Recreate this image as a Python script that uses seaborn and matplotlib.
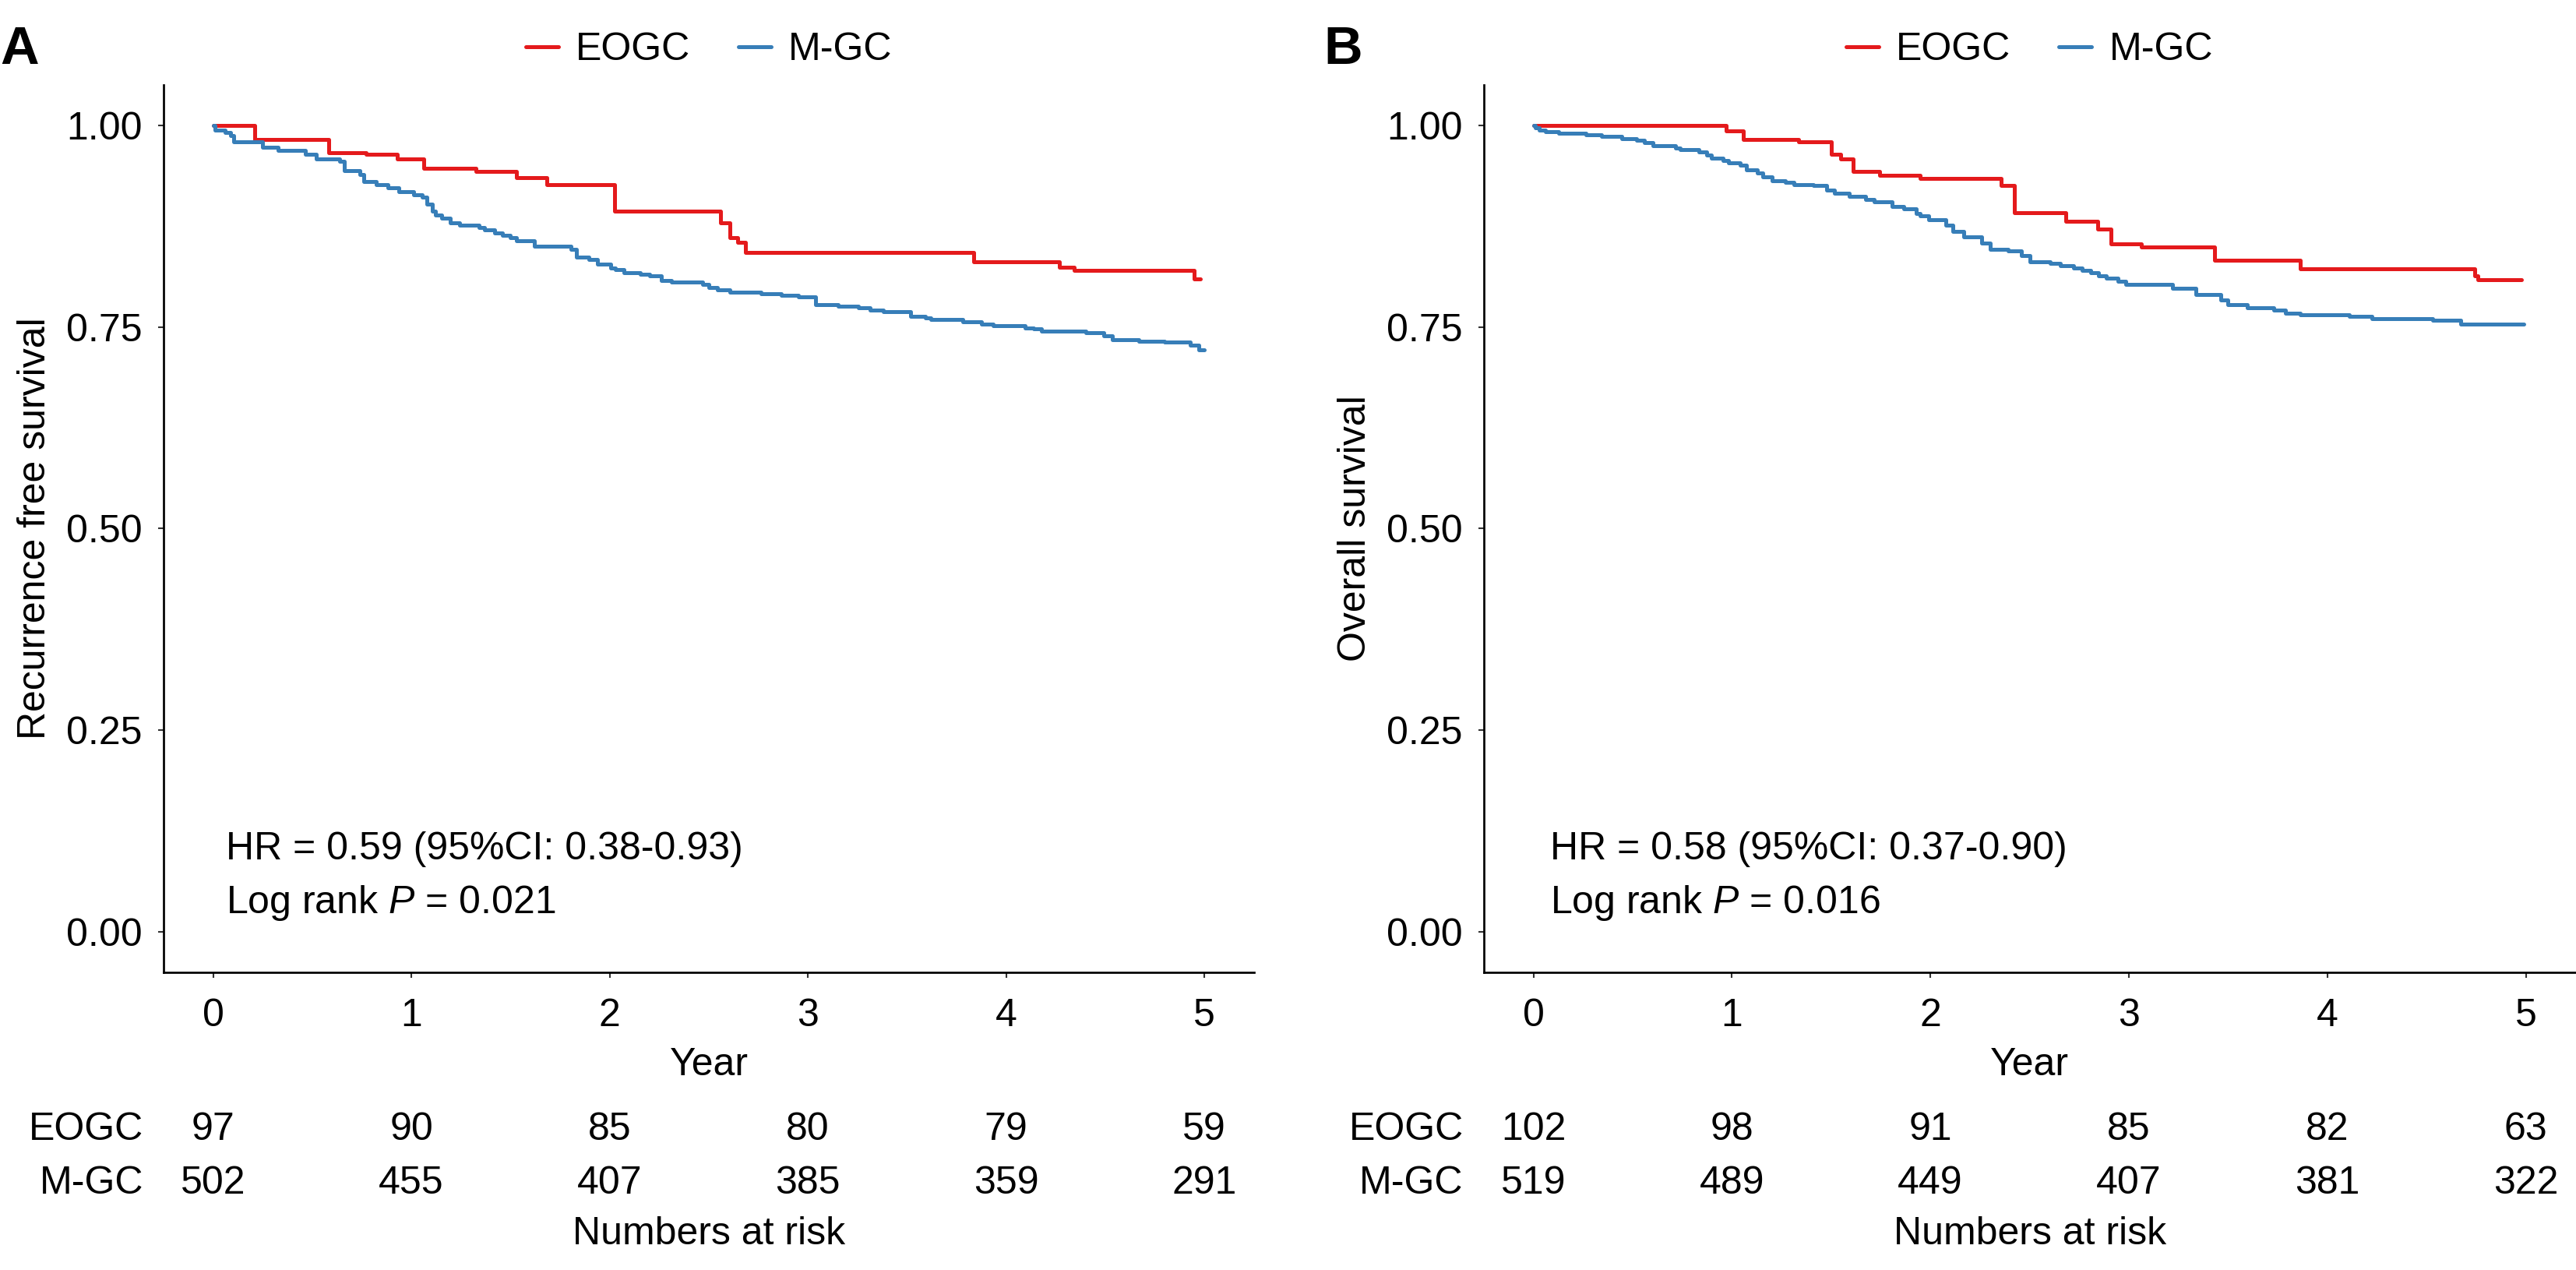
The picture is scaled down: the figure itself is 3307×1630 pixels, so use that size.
import pandas as pd
import matplotlib.pyplot as plt
import matplotlib.transforms as mtransforms
import seaborn as sns

# Kaplan-Meier step curves (time in years, survival)
rfs_eogc_t = [0, 0.21, 0.583, 0.773, 0.930, 1.062, 1.327, 1.530, 1.682, 2.026,
              2.559, 2.608, 2.645, 2.686, 3.836, 4.270, 4.344, 4.947, 4.98]
rfs_eogc_s = [1.0, 0.982, 0.966, 0.964, 0.958, 0.947, 0.943, 0.9355, 0.9265, 0.894,
              0.879, 0.861, 0.855, 0.842, 0.831, 0.824, 0.820, 0.810, 0.810]

rfs_mgc_t = [0, 0.01, 0.06, 0.087, 0.103, 0.249, 0.327, 0.467, 0.522, 0.638,
             0.661, 0.740, 0.759, 0.822, 0.881, 0.935, 1.013, 1.054, 1.079, 1.104,
             1.120, 1.153, 1.195, 1.244, 1.343, 1.368, 1.418, 1.459, 1.500, 1.530,
             1.619, 1.806, 1.831, 1.897, 1.938, 2.004, 2.029, 2.071, 2.153, 2.203,
             2.261, 2.310, 2.467, 2.500, 2.542, 2.608, 2.765, 2.864, 2.952, 3.040,
             3.154, 3.256, 3.315, 3.382, 3.517, 3.592, 3.621, 3.782, 3.877, 3.935,
             4.096, 4.137, 4.178, 4.402, 4.492, 4.534, 4.671, 4.798, 4.93, 4.97, 5.0]
rfs_mgc_s = [1.0, 0.994, 0.991, 0.987, 0.980, 0.973, 0.969, 0.964, 0.958, 0.955,
             0.944, 0.939, 0.930, 0.9265, 0.923, 0.918, 0.914, 0.911, 0.902, 0.894,
             0.889, 0.885, 0.879, 0.876, 0.873, 0.870, 0.867, 0.864, 0.861, 0.857,
             0.850, 0.846, 0.837, 0.834, 0.828, 0.823, 0.821, 0.817, 0.815, 0.813,
             0.808, 0.806, 0.803, 0.799, 0.796, 0.793, 0.791, 0.789, 0.787, 0.778,
             0.776, 0.7735, 0.771, 0.769, 0.763, 0.761, 0.759, 0.756, 0.7535, 0.7516,
             0.749, 0.7475, 0.745, 0.7427, 0.739, 0.7346, 0.7324, 0.731, 0.727, 0.722, 0.722]

os_eogc_t = [0, 0.973, 1.059, 1.336, 1.501, 1.547, 1.612, 1.745, 1.947, 2.356,
             2.422, 2.681, 2.843, 2.908, 3.062, 3.433, 3.862, 4.742, 4.759, 4.977]
os_eogc_s = [1.0, 0.9926, 0.982, 0.9795, 0.964, 0.958, 0.9425, 0.938, 0.934, 0.925,
             0.892, 0.881, 0.871, 0.853, 0.849, 0.833, 0.822, 0.8135, 0.809, 0.809]

os_mgc_t = [0, 0.01, 0.03, 0.061, 0.127, 0.266, 0.345, 0.447, 0.518, 0.560,
            0.601, 0.717, 0.741, 0.832, 0.874, 0.898, 0.956, 0.981, 1.042, 1.075,
            1.129, 1.154, 1.204, 1.270, 1.311, 1.410, 1.476, 1.518, 1.592, 1.675,
            1.716, 1.806, 1.864, 1.930, 1.947, 1.992, 2.078, 2.112, 2.169, 2.260,
            2.302, 2.392, 2.459, 2.50, 2.604, 2.654, 2.720, 2.765, 2.806, 2.847,
            2.885, 2.945, 2.984, 3.218, 3.339, 3.463, 3.498, 3.598, 3.730, 3.788,
            3.865, 4.110, 4.226, 4.531, 4.671, 4.99]
os_mgc_s = [1.0, 0.9965, 0.994, 0.992, 0.990, 0.988, 0.986, 0.9836, 0.9814, 0.979,
            0.975, 0.972, 0.970, 0.9666, 0.9634, 0.9596, 0.9564, 0.953, 0.9506, 0.9448,
            0.9413, 0.936, 0.9316, 0.929, 0.9268, 0.925, 0.920, 0.9156, 0.912, 0.908,
            0.905, 0.8996, 0.896, 0.8905, 0.8874, 0.8825, 0.876, 0.868, 0.8617, 0.8543,
            0.8466, 0.844, 0.839, 0.831, 0.8286, 0.8264, 0.823, 0.820, 0.8174, 0.8135,
            0.8103, 0.807, 0.803, 0.798, 0.790, 0.7837, 0.778, 0.774, 0.771, 0.767,
            0.7648, 0.763, 0.7606, 0.7586, 0.754, 0.754]

groups = ['EOGC', 'M-GC']
years = [0, 1, 2, 3, 4, 5]
rfs_risk_eogc = [97, 90, 85, 80, 79, 59]
rfs_risk_mgc = [502, 455, 407, 385, 359, 291]
os_risk_eogc = [102, 98, 91, 85, 82, 63]
os_risk_mgc = [519, 489, 449, 407, 381, 322]

rfs_stats = ['HR = 0.59 (95%CI: 0.38-0.93)', 'Log rank $P$ = 0.021']
os_stats = ['HR = 0.58 (95%CI: 0.37-0.90)', 'Log rank $P$ = 0.016']

palette = {'EOGC': '#E41A1C', 'M-GC': '#377EB8'}


def make_frame(t1, s1, t2, s2):
    d1 = pd.DataFrame({'time': t1, 'surv': s1, 'group': groups[0]})
    d2 = pd.DataFrame({'time': t2, 'surv': s2, 'group': groups[1]})
    return pd.concat([d1, d2], ignore_index=True)


def draw_panel(fig, rect, df, ylabel, stats, stats_x, risk1, risk2, letter, letter_x):
    ax = fig.add_axes(rect)
    sns.lineplot(data=df, x='time', y='surv', hue='group', palette=palette,
                 estimator=None, sort=False, drawstyle='steps-post',
                 linewidth=1.2, ax=ax)
    handles, labels = ax.get_legend_handles_labels()
    ax.get_legend().remove()
    ax.legend(handles, labels, loc='center', bbox_to_anchor=(0.5, 1.0395), ncol=2,
              frameon=False, fontsize=12, handlelength=0.84, handletextpad=0.44,
              columnspacing=1.24, borderaxespad=0)

    ax.set_xlim(-0.25, 5.25)
    ax.set_ylim(-0.05, 1.05)
    ax.set_xticks(years)
    ax.set_yticks([0, 0.25, 0.5, 0.75, 1.0])
    ax.set_yticklabels(['0.00', '0.25', '0.50', '0.75', '1.00'])
    ax.tick_params(axis='both', labelsize=12, length=1.7, width=0.5, color='#333333',
                   labelcolor='black')
    ax.tick_params(axis='x', pad=6.2)
    ax.tick_params(axis='y', pad=4.8)
    sns.despine(ax=ax)
    for side in ['left', 'bottom']:
        ax.spines[side].set_linewidth(0.65)
        ax.spines[side].set_color('black')

    ax.set_xlabel('Year', fontsize=12)
    ax.xaxis.label.set_va('baseline')
    ax.xaxis.set_label_coords(0.5, -0.1159)
    ax.set_ylabel(ylabel, fontsize=12)
    ax.yaxis.label.set_va('center')
    ax.yaxis.set_label_coords(-0.1179, 0.5)

    ax.text(stats_x, 0.0902, stats[0], fontsize=12, va='baseline')
    ax.text(stats_x, 0.0238, stats[1], fontsize=12, va='baseline')

    # numbers at risk table under the axis
    tr = mtransforms.blended_transform_factory(ax.transData, fig.transFigure)
    tr_lab = mtransforms.blended_transform_factory(ax.transAxes, fig.transFigure)
    for row_y, name, vals in [(0.1025, groups[0], risk1), (0.0601, groups[1], risk2)]:
        ax.text(-0.0186, row_y, name, transform=tr_lab, ha='right', va='baseline',
                fontsize=12)
        for yr, v in zip(years, vals):
            ax.text(yr, row_y, str(v), transform=tr, ha='center', va='baseline',
                    fontsize=12)
    ax.text(0.5, 0.0202, 'Numbers at risk', transform=tr_lab, ha='center',
            va='baseline', fontsize=12)

    fig.text(letter_x, 1 - 82 / 1630, letter, fontsize=16.5, fontweight='bold',
             va='baseline')
    return ax


def main():
    sns.set_style('ticks')
    plt.rcParams['font.family'] = ['Liberation Sans', 'DejaVu Sans']
    plt.rcParams['mathtext.fontset'] = 'custom'
    plt.rcParams['mathtext.rm'] = 'Liberation Sans'
    plt.rcParams['mathtext.it'] = 'Liberation Sans:italic'
    plt.rcParams['text.color'] = 'black'
    plt.rcParams['axes.labelcolor'] = 'black'

    fig = plt.figure(figsize=(3307 / 300, 1630 / 300), dpi=300)

    rfs = make_frame(rfs_eogc_t, rfs_eogc_s, rfs_mgc_t, rfs_mgc_s)
    os_df = make_frame(os_eogc_t, os_eogc_s, os_mgc_t, os_mgc_s)

    draw_panel(fig, [0.0635, 0.2344, 0.4233, 0.6987], rfs, 'Recurrence free survival',
               rfs_stats, 0.064, rfs_risk_eogc, rfs_risk_mgc, 'A', 0.0)
    draw_panel(fig, [0.5760, 0.2344, 0.4238, 0.6987], os_df, 'Overall survival',
               os_stats, 0.086, os_risk_eogc, os_risk_mgc, 'B', 0.5138)

    fig.savefig('out.png', dpi=300)


if __name__ == '__main__':
    main()
